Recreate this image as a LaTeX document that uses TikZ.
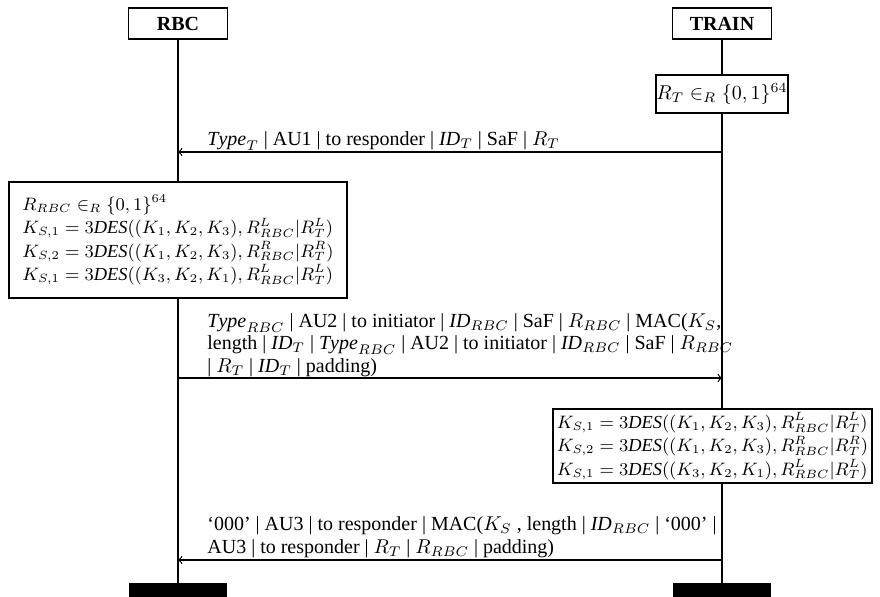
\documentclass[tikz,border=0pt]{standalone}
\usepackage{fontspec}
\setmainfont{Liberation Serif}
\newcommand{\kdes}[4]{K_{S,#1} = 3\mathit{DES}((#2),R^{#3}_{RBC}|R^{#4}_T)}
\begin{document}
\begin{tikzpicture}[x=0.5pt,y=-0.5pt,
  every node/.style={font=\fontsize{10}{11.3}\selectfont},
  head/.style={draw,fill=white,line width=0.6pt,minimum width=49.5pt,minimum height=15.5pt,inner sep=0pt,font=\fontsize{10}{11.3}\selectfont\bfseries},
  calc/.style={draw,fill=white,line width=0.6pt,align=left,inner sep=0pt,font=\fontsize{9.2}{11.7}\selectfont},
  msg/.style={align=left,anchor=south west,inner sep=0pt},
  life/.style={line width=0.6pt},
  arr/.style={line width=0.6pt,->},
  bar/.style={fill=black}]
\useasboundingbox (0,0) rectangle (880,597);
% lifelines
\coordinate (rbot) at (178,583);
\coordinate (tbot) at (722,583);
\node[head] (rbc) at (178,23.5) {RBC};
\node[head] (train) at (722,23.5) {TRAIN};
\draw[life] (rbc.south) -- (rbot);
\draw[life] (train.south) -- (tbot);
% R_T box
\node[draw,fill=white,line width=0.6pt,minimum width=66pt,minimum height=19pt,inner sep=0pt] (rt) at (722,94) {$R_T \in_R \{0,1\}^{64}$};
% message 1
\coordinate (m1t) at (722,152);
\coordinate (m1r) at (178,152);
\draw[arr] (m1t) -- (m1r);
\node[msg] (l1) at (207,151) {$\mathit{Type}_T$ | AU1 | to responder | $\mathit{ID}_T$ | SaF | $R_T$};
% RBC calc box
\node[calc,minimum width=169pt,minimum height=58pt] (rbcbox) at (178,240) {%
$R_{RBC} \in_R \{0,1\}^{64}$\\
$\kdes{1}{K_1,K_2,K_3}{L}{L}$\\
$\kdes{2}{K_1,K_2,K_3}{R}{R}$\\
$\kdes{1}{K_3,K_2,K_1}{L}{L}$};
% message 2
\coordinate (m2r) at (178,378);
\coordinate (m2t) at (722,378);
\draw[arr] (m2r) -- (m2t);
\node[msg] (l2) at (207,377) {%
$\mathit{Type}_{RBC}$ | AU2 | to initiator | $\mathit{ID}_{RBC}$ | SaF | $R_{RBC}$ | MAC($K_S$,\\
length | $\mathit{ID}_T$ | $\mathit{Type}_{RBC}$ | AU2 | to initiator | $\mathit{ID}_{RBC}$ | SaF | $R_{RBC}$\\
| $R_T$ | $\mathit{ID}_T$ | padding)};
% TRAIN calc box
\node[calc,minimum width=159.5pt,minimum height=37pt] (trainbox) at (712.5,446) {%
$\kdes{1}{K_1,K_2,K_3}{L}{L}$\\
$\kdes{2}{K_1,K_2,K_3}{R}{R}$\\
$\kdes{1}{K_3,K_2,K_1}{L}{L}$};
% message 3
\coordinate (m3t) at (722,560);
\coordinate (m3r) at (178,560);
\draw[arr] (m3t) -- (m3r);
\node[msg] (l3) at (207,558) {%
`000' | AU3 | to responder | MAC($K_S$ , length | $\mathit{ID}_{RBC}$ | `000' |\\
AU3 | to responder | $R_T$ | $R_{RBC}$ | padding)};
% end bars
\fill[bar] (129,583) rectangle (227,597);
\fill[bar] (673,583) rectangle (771,597);
\end{tikzpicture}
\end{document}
